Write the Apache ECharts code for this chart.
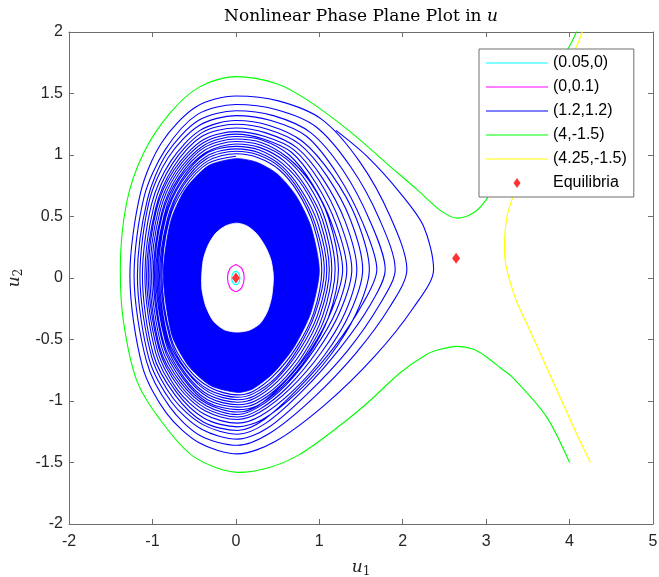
<!DOCTYPE html>
<html>
<head>
<meta charset="utf-8">
<script src="https://cdn.jsdelivr.net/npm/echarts@6/dist/echarts.min.js"></script>
<style>
html,body{margin:0;padding:0;background:#fff;}
#chart{width:659px;height:577px;}
</style>
</head>
<body>
<div id="chart"></div>
<script>
// ---- axis ranges / ticks ----
const xRange = [-2, 5];
const xStep = 1;
const yRange = [-2, 2];
const yStep = 0.5;

// ---- legend names ----
const seriesNames = ['(0.05,0)', '(0,0.1)', '(1.2,1.2)', '(4,-1.5)', '(4.25,-1.5)', 'Equilibria'];

// ---- trajectories (u1, u2) ----
const cyanOrbit = [[0.05,0],[0.035,-0.038],[0,-0.054],[-0.035,-0.038],[-0.05,0],[-0.035,0.038],[0,0.054],[0.035,0.038],[0.05,0]];
const magentaOrbit = [[0,0.11],[0.07,0.078],[0.1,0],[0.07,-0.078],[0,-0.11],[-0.07,-0.078],[-0.1,0],[-0.07,0.078],[0,0.11]];

const blueSpiral = [
  [1.2,1.2],[1.57,0.99],[1.97,0.69],[2.25,0.42],[2.37,0.07],[2.13,-0.24],[1.66,-0.64],[1.07,-1.03],[0.47,-1.33],[0.02,-1.43],[-0.44,-1.34],[-0.83,-1.10],[-1.12,-0.72],[-1.27,0.02],[-1.14,0.70],[-0.89,1.10],[-0.48,1.39],[0,1.48],
  [0.51,1.44],[1.03,1.29],[1.48,0.95],[1.85,0.5],[2.05,0.07],[1.85,-0.23],[1.44,-0.61],[0.92,-0.98],[0.41,-1.26],[0.02,-1.36],[-0.43,-1.28],[-0.79,-1.05],[-1.07,-0.68],[-1.22,0.02],[-1.10,0.66],[-0.85,1.04],[-0.46,1.33],[0,1.41],
  [0.48,1.37],[0.96,1.23],[1.38,0.90],[1.72,0.48],[1.91,0.07],[1.72,-0.22],[1.34,-0.59],[0.86,-0.94],[0.38,-1.22],[0.02,-1.31],[-0.41,-1.23],[-0.77,-1.01],[-1.04,-0.66],[-1.18,0.02],[-1.06,0.64],[-0.83,1.01],[-0.45,1.28],[0,1.36],
  [0.45,1.32],[0.9,1.18],[1.29,0.87],[1.61,0.46],[1.79,0.07],[1.61,-0.22],[1.25,-0.57],[0.81,-0.91],[0.36,-1.18],[0.02,-1.27],[-0.40,-1.19],[-0.75,-0.98],[-1.01,-0.64],[-1.15,0.02],[-1.04,0.62],[-0.81,0.98],[-0.44,1.24],[0,1.32],
  [0.42,1.28],[0.85,1.15],[1.22,0.84],[1.52,0.45],[1.69,0.07],[1.52,-0.21],[1.18,-0.56],[0.76,-0.89],[0.34,-1.15],[0.02,-1.24],[-0.39,-1.17],[-0.73,-0.95],[-0.99,-0.62],[-1.12,0.02],[-1.01,0.60],[-0.78,0.95],[-0.43,1.20],[0,1.28],
  [0.40,1.24],[0.80,1.11],[1.15,0.84],[1.44,0.49],[1.60,0.07],[1.44,-0.29],[1.12,-0.64],[0.72,-0.94],[0.32,-1.15],[0.02,-1.21],[-0.38,-1.14],[-0.71,-0.93],[-0.96,-0.61],[-1.09,0.02],[-0.98,0.59],[-0.76,0.93],[-0.41,1.18],[0,1.25],
  [0.38,1.21],[0.76,1.09],[1.09,0.83],[1.37,0.48],[1.52,0.07],[1.37,-0.28],[1.06,-0.63],[0.68,-0.92],[0.30,-1.12],[0.02,-1.18],[-0.37,-1.11],[-0.70,-0.91],[-0.94,-0.59],[-1.07,0.02],[-0.96,0.57],[-0.75,0.90],[-0.41,1.15],[0,1.22],
  [0.36,1.18],[0.73,1.06],[1.04,0.81],[1.31,0.46],[1.45,0.07],[1.31,-0.28],[1.02,-0.61],[0.65,-0.90],[0.29,-1.09],[0.02,-1.15],[-0.37,-1.08],[-0.68,-0.89],[-0.92,-0.58],[-1.05,0.02],[-0.95,0.56],[-0.74,0.88],[-0.40,1.12],[0,1.19],
  [0.35,1.15],[0.70,1.04],[1.0,0.79],[1.25,0.45],[1.39,0.07],[1.25,-0.27],[0.97,-0.60],[0.63,-0.88],[0.28,-1.07],[0.02,-1.13],[-0.36,-1.06],[-0.67,-0.87],[-0.91,-0.57],[-1.03,0.02],[-0.93,0.55],[-0.72,0.87],[-0.39,1.10],[0,1.17],
  [0.33,1.13],[0.67,1.02],[0.96,0.77],[1.20,0.44],[1.33,0.07],[1.20,-0.27],[0.93,-0.59],[0.60,-0.87],[0.27,-1.05],[0.02,-1.11],[-0.35,-1.04],[-0.66,-0.85],[-0.89,-0.56],[-1.01,0.02],[-0.91,0.54],[-0.71,0.85],[-0.38,1.08],[0,1.15],
  [0.32,1.12],[0.64,1.0],[0.92,0.76],[1.15,0.44],[1.28,0.07],[1.15,-0.26],[0.90,-0.58],[0.58,-0.85],[0.26,-1.04],[0.02,-1.09],[-0.35,-1.02],[-0.64,-0.84],[-0.87,-0.55],[-0.99,0.02],[-0.89,0.53],[-0.69,0.84],[-0.38,1.06],[0,1.13],
  [0.31,1.10],[0.62,0.98],[0.89,0.78],[1.11,0.49],[1.23,0.07],[1.11,-0.32],[0.86,-0.64],[0.55,-0.89],[0.25,-1.04],[0.02,-1.07],[-0.34,-1.01],[-0.63,-0.82],[-0.86,-0.54],[-0.975,0.02],[-0.88,0.52],[-0.68,0.82],[-0.37,1.04],[0,1.11],
  [0.30,1.08],[0.60,0.97],[0.86,0.77],[1.07,0.48],[1.19,0.07],[1.07,-0.32],[0.83,-0.63],[0.54,-0.87],[0.24,-1.02],[0.02,-1.05],[-0.34,-0.99],[-0.62,-0.81],[-0.84,-0.53],[-0.96,0.02],[-0.86,0.51],[-0.67,0.81],[-0.36,1.02],[0,1.09],
  [0.29,1.06],[0.58,0.95],[0.83,0.75],[1.04,0.47],[1.15,0.07],[1.04,-0.31],[0.81,-0.62],[0.52,-0.86],[0.23,-1.0],[0.02,-1.03],[-0.33,-0.97],[-0.61,-0.79],[-0.83,-0.52],[-0.945,0.02],[-0.85,0.50],[-0.66,0.79],[-0.36,1.01],[0,1.07],
  [0.28,1.04],[0.56,0.93],[0.81,0.74],[1.01,0.46],[1.12,0.07],[1.01,-0.30],[0.78,-0.61],[0.50,-0.84],[0.22,-0.98],[0.02,-1.01],[-0.33,-0.95],[-0.60,-0.78],[-0.82,-0.51],[-0.93,0.02],[-0.84,0.49],[-0.65,0.78],[-0.35,0.99],[0,1.05],
  [0.27,1.02],[0.55,0.91],[0.78,0.72],[0.98,0.45],[1.09,0.07],[0.98,-0.30],[0.76,-0.59],[0.49,-0.82],[0.22,-0.96],[0.02,-0.99],[-0.32,-0.93],[-0.59,-0.76],[-0.81,-0.50],[-0.915,0.02],[-0.82,0.48],[-0.64,0.76],[-0.35,0.97],[0,1.03],
  [0.27,1.0],[0.53,0.90],[0.76,0.71],[0.95,0.44],[1.06,0.07],[0.95,-0.29],[0.74,-0.58],[0.48,-0.81],[0.21,-0.94],[0.02,-0.97],[-0.32,-0.91],[-0.59,-0.75],[-0.79,-0.49],[-0.90,0.02],[-0.81,0.47],[-0.63,0.75],[-0.34,0.95],[0,1.01],
  [0.26,0.98],[0.52,0.88],[0.74,0.70],[0.93,0.43],[1.03,0.07],[0.93,-0.29],[0.72,-0.57],[0.46,-0.79],[0.21,-0.92],[0.02,-0.95],[-0.31,-0.89],[-0.58,-0.73],[-0.78,-0.48],[-0.885,0.02],[-0.80,0.47],[-0.62,0.73],[-0.34,0.93],[0,0.99]
];
// densely wound part of the spiral (reads as solid blue) and the empty centre it leaves
const denseCore = [[0,0.97],[0.25,0.941],[0.5,0.844],[0.72,0.669],[0.9,0.417],[1.0,0.06],[0.9,-0.279],[0.7,-0.558],[0.45,-0.772],[0.2,-0.902],[0.02,-0.93],[-0.305,-0.874],[-0.566,-0.716],[-0.766,-0.465],[-0.87,0.02],[-0.783,0.456],[-0.609,0.718],[-0.331,0.912]];
const innerHole = [[0.01,0.446],[0.13,0.425],[0.25,0.36],[0.35,0.26],[0.42,0.148],[0.45,0.01],[0.43,-0.15],[0.38,-0.27],[0.29,-0.37],[0.16,-0.425],[0.01,-0.44],[-0.14,-0.42],[-0.27,-0.35],[-0.36,-0.23],[-0.405,-0.1],[-0.41,0.01],[-0.39,0.15],[-0.33,0.27],[-0.24,0.365],[-0.12,0.425]];

const greenTraj = [
  [4.0,-1.5],[3.72,-1.125],[3.32,-0.81],[3.17,-0.73],[3.0,-0.64],[2.85,-0.58],[2.65,-0.556],[2.45,-0.58],[2.29,-0.62],[1.97,-0.77],[1.57,-1.02],[1.17,-1.24],[0.75,-1.44],[0.4,-1.54],[0.03,-1.58],
  [-0.51,-1.45],[-0.91,-1.15],[-1.19,-0.83],[-1.35,-0.34],[-1.385,0.07],[-1.31,0.61],[-1.11,1.01],[-0.79,1.34],[-0.43,1.556],[0,1.637],[0.49,1.58],[0.85,1.45],
  [1.37,1.19],[1.81,0.93],[2.17,0.72],[2.45,0.55],[2.65,0.487],[2.85,0.53],[3.0,0.635],[3.08,0.743],[3.3,1.02],[3.55,1.35],[3.8,1.65],[4.02,1.91],[4.1,2.03]
];
const yellowTraj = [
  [4.25,-1.5],[4.08,-1.26],[3.92,-1.02],[3.72,-0.72],[3.52,-0.42],[3.37,-0.2],[3.28,-0.015],[3.23,0.13],[3.22,0.256],[3.23,0.4],[3.26,0.53],[3.37,0.757],[3.55,1.1],[3.8,1.5],[4.08,1.88],[4.18,2.05]
];
const equilibria = [[0,0],[2.64,0.16]];

// ---- styling ----
const axisColor = '#6e6e6e';
const textColor = '#262626';
const sansFont = 'Liberation Sans';
const serifFont = 'DejaVu Serif';
const lineIcon = 'path://M0,0L62,0L62,1.2L0,1.2Z';

function lineSeries(name, data, color) {
  return {
    type: 'line', name: name, data: data, xAxisIndex: 0, yAxisIndex: 0,
    symbol: 'none', showSymbol: false, smooth: 0.3, clip: true, z: 3,
    lineStyle: { color: color, width: 1.1 }, itemStyle: { color: color },
    emphasis: { disabled: true }
  };
}
function polygonSeries(name, pts, color, z) {
  return {
    type: 'custom', name: name, coordinateSystem: 'cartesian2d', xAxisIndex: 0, yAxisIndex: 0,
    data: [pts[0]], silent: true, clip: true, z: z,
    renderItem: function (params, api) {
      return {
        type: 'polygon',
        shape: { points: pts.map(function (p) { return api.coord(p); }), smooth: 0.25 },
        style: { fill: color, stroke: color, lineWidth: 0.8 }
      };
    }
  };
}

const chart = echarts.init(document.getElementById('chart'), null, { renderer: 'canvas' });
const option = {
  animation: false,
  backgroundColor: '#ffffff',
  grid: { left: 69, top: 32, right: 6, bottom: 53, containLabel: false, outerBoundsMode: 'none' },
  legend: {
    orient: 'vertical', left: 479, top: 49, padding: [6, 7, 6, 7],
    backgroundColor: '#ffffff', borderColor: axisColor, borderWidth: 1, borderRadius: 0,
    itemWidth: 62, itemHeight: 14, itemGap: 8, selectedMode: false,
    textStyle: { fontFamily: sansFont, fontSize: 16, color: '#000', lineHeight: 14 },
    data: [
      { name: seriesNames[0], icon: lineIcon },
      { name: seriesNames[1], icon: lineIcon },
      { name: seriesNames[2], icon: lineIcon },
      { name: seriesNames[3], icon: lineIcon },
      { name: seriesNames[4], icon: lineIcon },
      { name: seriesNames[5], icon: 'path://M0,0M0,14M3.5,2L7,7L3.5,12L0,7Z' }
    ],
    z: 10
  },
  xAxis: [
    {
      type: 'value', min: xRange[0], max: xRange[1], interval: xStep, position: 'bottom',
      axisLine: { show: true, onZero: false, lineStyle: { color: axisColor, width: 1 } },
      axisTick: { show: true, inside: true, length: 5, lineStyle: { color: axisColor } },
      axisLabel: { show: true, margin: 10, fontFamily: sansFont, fontSize: 16, color: textColor },
      splitLine: { show: false },
      name: '{i|u}{s|1}', nameLocation: 'middle', nameGap: 34,
      nameTextStyle: { rich: {
        i: { fontFamily: serifFont, fontStyle: 'italic', fontSize: 17, color: textColor },
        s: { fontFamily: serifFont, fontSize: 12, color: textColor, padding: [8, 0, 0, 0] }
      } }
    },
    {
      type: 'value', min: xRange[0], max: xRange[1], interval: xStep, position: 'top',
      axisLine: { show: true, onZero: false, lineStyle: { color: axisColor, width: 1 } },
      axisTick: { show: true, inside: true, length: 5, lineStyle: { color: axisColor } },
      axisLabel: { show: false }, splitLine: { show: false },
      name: '{n|Nonlinear Phase Plane Plot in }{i|u}', nameLocation: 'middle', nameGap: 7,
      nameTextStyle: { rich: {
        n: { fontFamily: serifFont, fontSize: 17, color: '#000' },
        i: { fontFamily: serifFont, fontStyle: 'italic', fontSize: 17, color: '#000' }
      } }
    }
  ],
  yAxis: [
    {
      type: 'value', min: yRange[0], max: yRange[1], interval: yStep, position: 'left',
      axisLine: { show: true, onZero: false, lineStyle: { color: axisColor, width: 1 } },
      axisTick: { show: true, inside: true, length: 5, lineStyle: { color: axisColor } },
      axisLabel: { show: true, margin: 6, fontFamily: sansFont, fontSize: 16, color: textColor },
      splitLine: { show: false },
      name: '{i|u}{s|2}', nameLocation: 'middle', nameGap: 38, nameRotate: 90,
      nameTextStyle: { rich: {
        i: { fontFamily: serifFont, fontStyle: 'italic', fontSize: 17, color: textColor },
        s: { fontFamily: serifFont, fontSize: 12, color: textColor, padding: [8, 0, 0, 0] }
      } }
    },
    {
      type: 'value', min: yRange[0], max: yRange[1], interval: yStep, position: 'right',
      axisLine: { show: true, onZero: false, lineStyle: { color: axisColor, width: 1 } },
      axisTick: { show: true, inside: true, length: 5, lineStyle: { color: axisColor } },
      axisLabel: { show: false }, splitLine: { show: false }
    }
  ],
  series: [
    lineSeries(seriesNames[2], blueSpiral, '#0000ff'),
    polygonSeries('denseCore', denseCore, '#0000ff', 3),
    polygonSeries('innerHole', innerHole, '#ffffff', 3),
    lineSeries(seriesNames[0], cyanOrbit, '#00ffff'),
    lineSeries(seriesNames[1], magentaOrbit, '#ff00ff'),
    lineSeries(seriesNames[3], greenTraj, '#00ff00'),
    lineSeries(seriesNames[4], yellowTraj, '#ffff00'),
    {
      type: 'scatter', name: seriesNames[5], data: equilibria, xAxisIndex: 0, yAxisIndex: 0,
      symbol: 'diamond', symbolSize: [8, 11], z: 5,
      itemStyle: { color: '#ff0000' }, emphasis: { disabled: true }
    }
  ]
};
chart.setOption(option);
</script>
</body>
</html>
